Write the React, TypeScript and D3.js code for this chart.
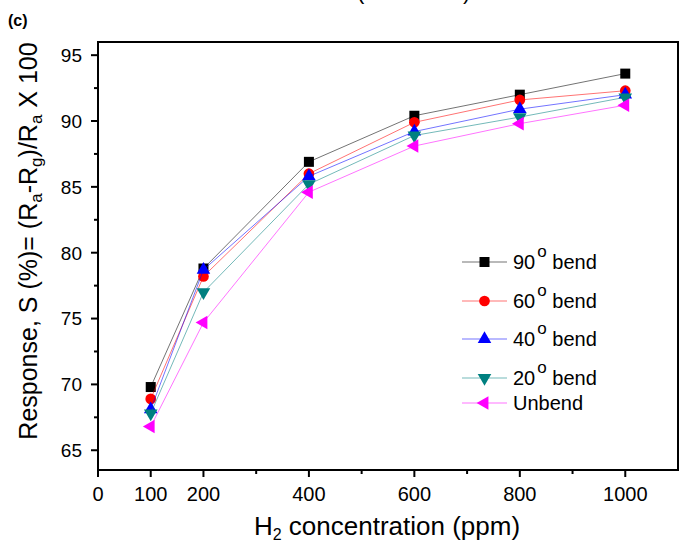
import React from "react";
import * as d3 from "d3";

const concentrations = [100, 200, 400, 600, 800, 1000];
const bend90 = [69.8, 78.8, 86.9, 90.4, 92.0, 93.6];
const bend60 = [68.9, 78.2, 86.0, 89.9, 91.6, 92.3];
const bend40 = [68.1, 78.7, 85.8, 89.2, 90.9, 92.0];
const bend20 = [67.8, 77.0, 85.2, 88.9, 90.3, 91.8];
const unbend = [66.8, 74.7, 84.6, 88.1, 89.8, 91.2];

const seriesNames = ["90", "60", "40", "20", "Unbend"];
const seriesColors = ["#000000", "#ff0000", "#0000ff", "#008080", "#ff00ff"];
const seriesShapes = ["square", "circle", "up", "down", "left"];
const seriesValues = [bend90, bend60, bend40, bend20, unbend];

const xTickLabels = [0, 100, 200, 400, 600, 800, 1000];
const xMinorTicks = [300, 500, 700, 900];
const yTickLabels = [65, 70, 75, 80, 85, 90, 95];
const yMinorTicks = [67.5, 72.5, 77.5, 82.5, 87.5, 92.5];

const W = 679;
const H = 542;
const FONT = "'Liberation Sans', Arial, Helvetica, sans-serif";

function markerPath(shape: string): { d: string; rot: number } {
  if (shape === "square") return { d: d3.symbol(d3.symbolSquare, 100)() as string, rot: 0 };
  if (shape === "circle") return { d: d3.symbol(d3.symbolCircle, 90)() as string, rot: 0 };
  const tri = d3.symbol(d3.symbolTriangle, 80)() as string;
  if (shape === "up") return { d: tri, rot: 0 };
  if (shape === "down") return { d: tri, rot: 180 };
  return { d: tri, rot: -90 };
}

export default function App() {
  const x = d3.scaleLinear().domain([0, 1100]).range([98, 678]);
  const y = d3.scaleLinear().domain([63.5, 96]).range([470, 42]);
  const line = d3
    .line<number>()
    .x((_, i) => x(concentrations[i]))
    .y((v) => y(v));

  const legendX0 = 462;
  const legendX1 = 507;
  const legendRows = [262, 301, 339, 378, 403];

  return (
    <svg
      width={W}
      height={H}
      style={{ position: "absolute", left: 0, top: 0, background: "#fff" }}
      fontFamily={FONT}
    >
      <rect x={0} y={0} width={W} height={H} fill="#fff" />
      {/* clipped title fragment */}
      <text x={357} y={-1} fontSize={22} fill="#000">(</text>
      <text x={463} y={-1} fontSize={22} fill="#000">)</text>
      <text x={8} y={26} fontSize={16} fontWeight="bold" fill="#000">(c)</text>

      {/* frame */}
      <rect
        x={x(0)}
        y={y(96)}
        width={x(1100) - x(0)}
        height={y(63.5) - y(96)}
        fill="none"
        stroke="#000"
        strokeWidth={2}
      />

      {/* y ticks */}
      {yTickLabels.map((t) => (
        <g key={"y" + t}>
          <line x1={x(0) - 7} x2={x(0)} y1={y(t)} y2={y(t)} stroke="#000" strokeWidth={2} />
          <text
            x={x(0) - 16}
            y={y(t)}
            dy="0.36em"
            textAnchor="end"
            fontSize={19}
            fill="#000"
          >
            {t}
          </text>
        </g>
      ))}
      {yMinorTicks.map((t) => (
        <line key={"ym" + t} x1={x(0) - 4} x2={x(0)} y1={y(t)} y2={y(t)} stroke="#000" strokeWidth={2} />
      ))}

      {/* x ticks */}
      {xTickLabels.map((t) => (
        <g key={"x" + t}>
          <line x1={x(t)} x2={x(t)} y1={y(63.5)} y2={y(63.5) + 7} stroke="#000" strokeWidth={2} />
          <text x={x(t)} y={501} textAnchor="middle" fontSize={20} fill="#000">
            {t}
          </text>
        </g>
      ))}
      {xMinorTicks.map((t) => (
        <line key={"xm" + t} x1={x(t)} x2={x(t)} y1={y(63.5)} y2={y(63.5) + 4} stroke="#000" strokeWidth={2} />
      ))}

      {/* axis titles */}
      <text x={387} y={535} textAnchor="middle" fontSize={26} fill="#000">
        H<tspan fontSize={16} dy={5}>2</tspan>
        <tspan dy={-5}> concentration (ppm)</tspan>
      </text>
      <text
        transform="translate(37,241) rotate(-90)"
        textAnchor="middle"
        fontSize={25}
        fill="#000"
      >
        Response, S (%)= (R<tspan fontSize={17} dy={5}>a</tspan>
        <tspan dy={-5}>-R</tspan>
        <tspan fontSize={17} dy={5}>g</tspan>
        <tspan dy={-5}>)/R</tspan>
        <tspan fontSize={17} dy={5}>a</tspan>
        <tspan dy={-5}> X 100</tspan>
      </text>

      {/* series */}
      {seriesValues.map((vals, si) => {
        const m = markerPath(seriesShapes[si]);
        return (
          <g key={"s" + si}>
            <path
              d={line(vals) as string}
              fill="none"
              stroke={seriesColors[si]}
              strokeOpacity={0.55}
              strokeWidth={1}
            />
            {vals.map((v, i) => (
              <path
                key={i}
                d={m.d}
                transform={`translate(${x(concentrations[i])},${y(v)}) rotate(${m.rot})`}
                fill={seriesColors[si]}
              />
            ))}
          </g>
        );
      })}

      {/* legend */}
      {seriesNames.map((name, si) => {
        const m = markerPath(seriesShapes[si]);
        const ry = legendRows[si];
        return (
          <g key={"l" + si}>
            <line
              x1={legendX0}
              x2={legendX1}
              y1={ry}
              y2={ry}
              stroke={seriesColors[si]}
              strokeOpacity={0.55}
              strokeWidth={1}
            />
            <path
              d={m.d}
              transform={`translate(${(legendX0 + legendX1) / 2},${ry}) rotate(${m.rot})`}
              fill={seriesColors[si]}
            />
            {name === "Unbend" ? (
              <text x={513} y={ry + 7} fontSize={20} fill="#000">
                Unbend
              </text>
            ) : (
              <text x={513} y={ry + 7} fontSize={20} fill="#000">
                {name}
                <tspan fontSize={17} dy={-12} dx={2}>o</tspan>
                <tspan dy={12}> bend</tspan>
              </text>
            )}
          </g>
        );
      })}
    </svg>
  );
}
